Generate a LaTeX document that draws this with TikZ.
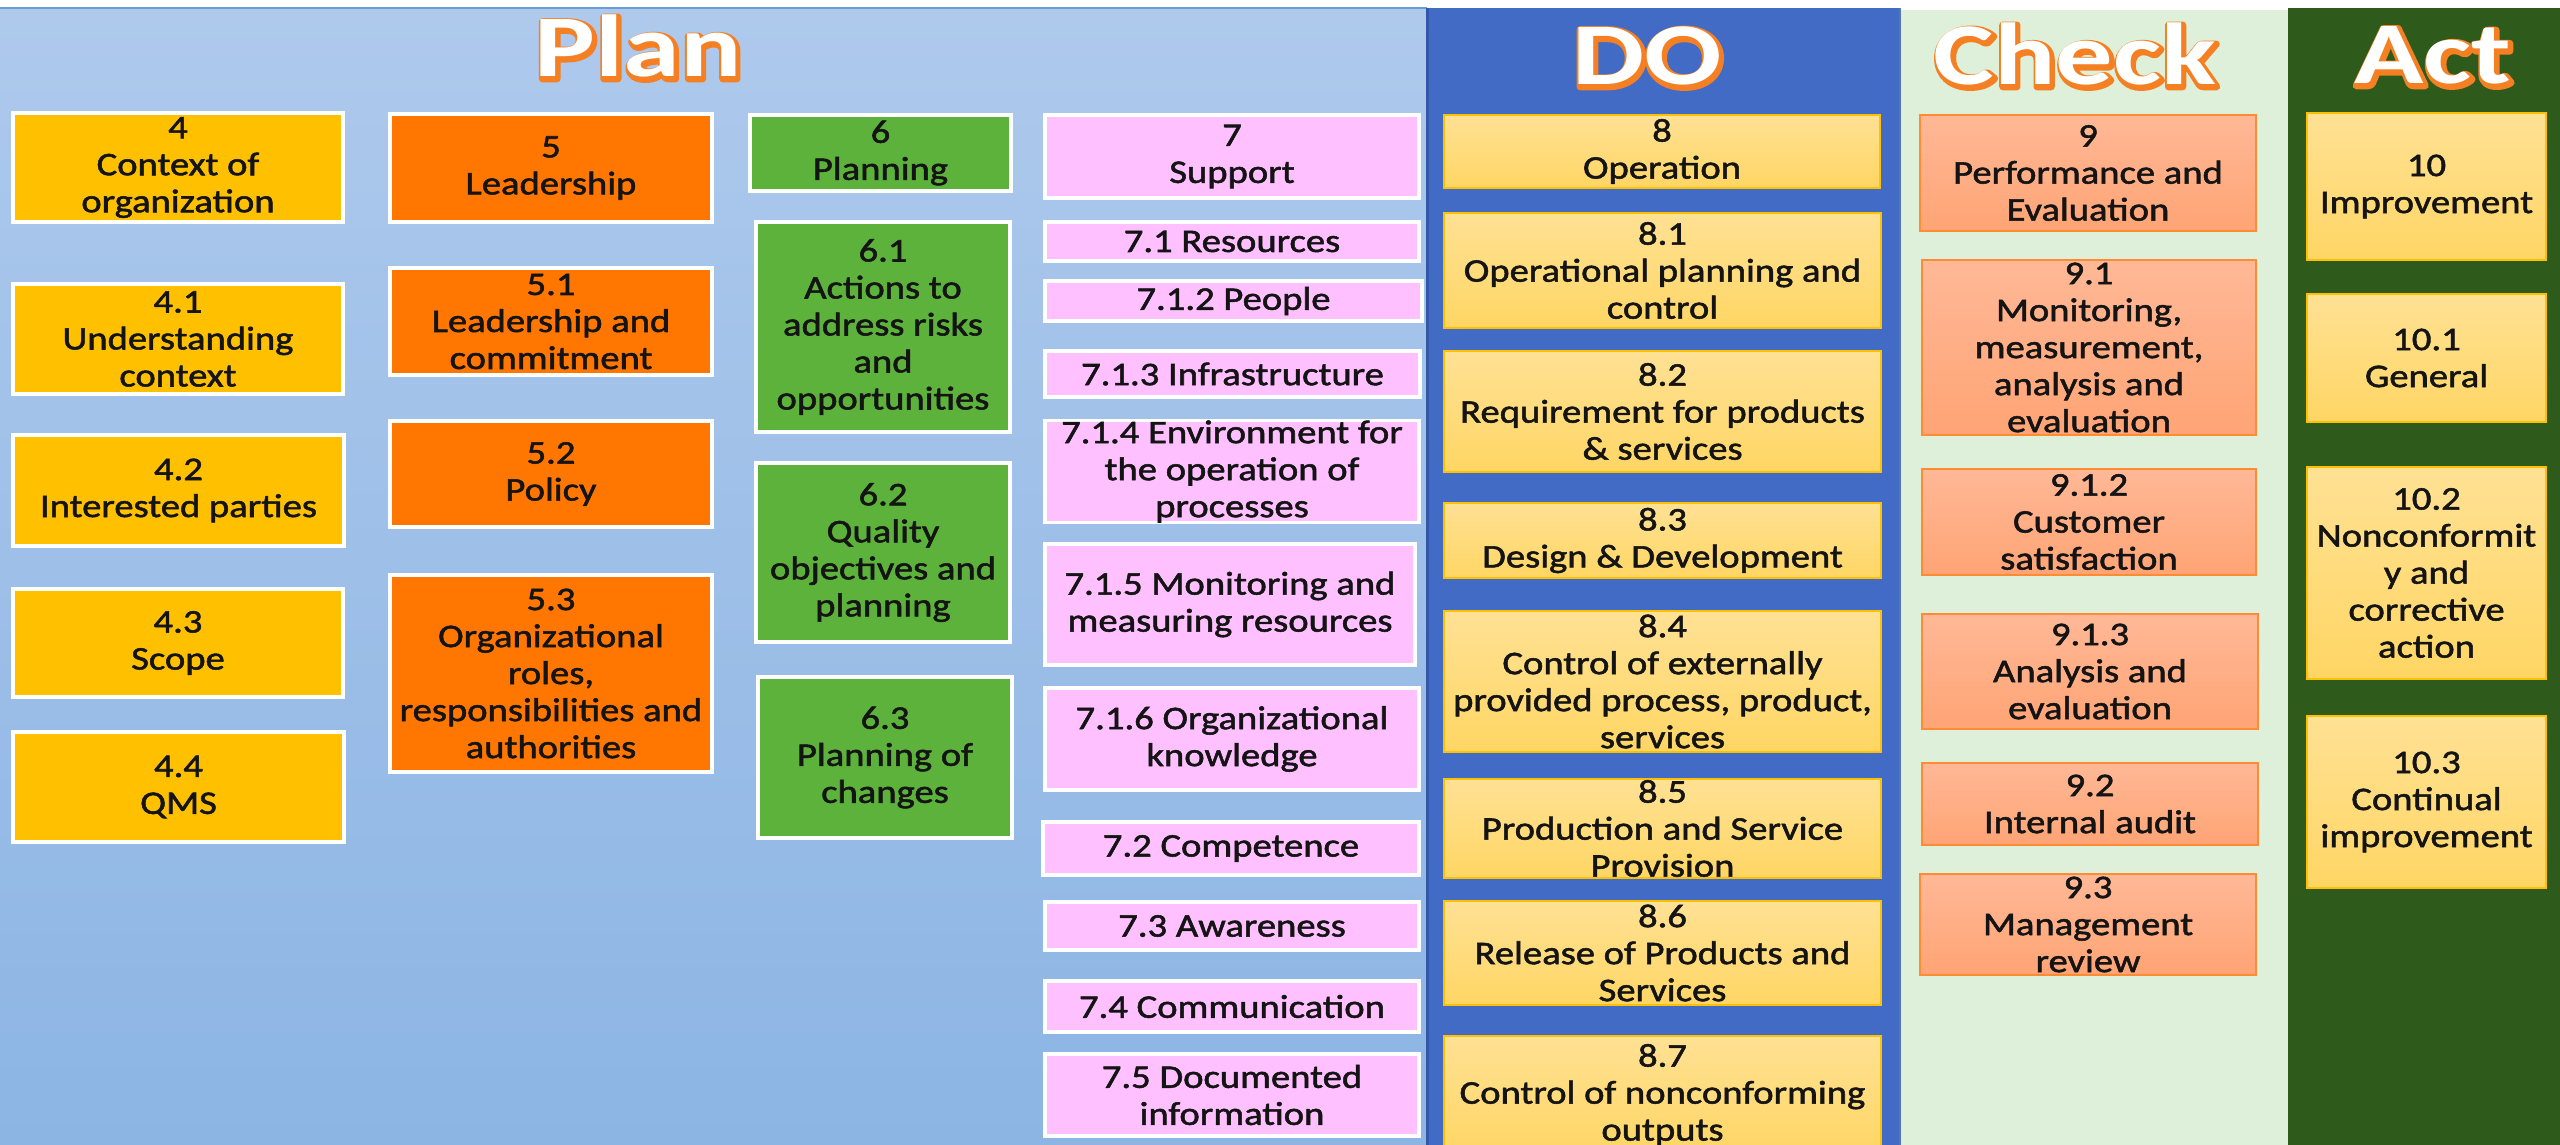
\documentclass[tikz,border=0pt]{standalone}
\usepackage{fontspec}
\setmainfont{Carlito}[FakeStretch=1.17, FakeBold=1.6]
\newfontfamily\ttlfont{Carlito}[FakeStretch=1.3]
\newfontfamily\ttlout{Carlito}[FakeStretch=1.3, FakeBold=8]
\definecolor{planTop}{RGB}{174,201,236}
\definecolor{planBot}{RGB}{140,181,228}
\definecolor{planEdge}{RGB}{105,155,215}
\definecolor{doBlue}{RGB}{66,107,197}
\definecolor{doEdge}{RGB}{52,88,168}
\definecolor{chkBg}{RGB}{222,240,217}
\definecolor{actBg}{RGB}{46,90,28}
\definecolor{yel}{RGB}{255,192,0}
\definecolor{org}{RGB}{255,119,0}
\definecolor{grn}{RGB}{92,178,58}
\definecolor{pnk}{RGB}{255,192,255}
\definecolor{ltYa}{RGB}{255,225,148}
\definecolor{ltYb}{RGB}{255,214,100}
\definecolor{gold}{RGB}{255,192,0}
\definecolor{salA}{RGB}{255,184,150}
\definecolor{salB}{RGB}{255,164,117}
\definecolor{salEdge}{RGB}{255,140,50}
\definecolor{ttlO}{RGB}{245,128,35}
\definecolor{txt}{RGB}{20,20,20}
% name, style, x1, y1, x2, y2, text  (pixel coordinates, y downwards)
\newcommand\bxn[7]{\node[#2, minimum width={(#5-#3)*0.5pt}, minimum height={(#6-#4)*0.5pt}]
  (#1) at ({(#3+#5)/2},{(#4+#6)/2+2}) {#7};}
\newcommand\pnl[6]{\node[panel, #2, minimum width={(#5-#3)*0.5pt}, minimum height={(#6-#4)*0.5pt}]
  (#1) at ({(#3+#5)/2},{(#4+#6)/2}) {};}
% outlined title: a fake-bold orange copy (outline and shadow) under the white text
\newcommand\ttlnode[4]{%
  \path (#2,#3) ++(0.7pt,-0.9pt) node[ttlo] {#4};
  \node[ttl,text=white] (#1) at (#2,#3) {#4};}
\begin{document}
\begin{tikzpicture}[x=0.5pt,y=-0.5pt,
  bx/.style={inner sep=0pt, outer sep=0pt, anchor=center, align=center, text=txt, font=\fontsize{16.5}{18.5}\selectfont},
  planbox/.style={bx, draw=white, line width=1.6pt},
  ybox/.style={planbox, fill=yel},
  obox/.style={planbox, fill=org},
  gbox/.style={planbox, fill=grn},
  pbox/.style={planbox, fill=pnk},
  dbox/.style={bx, draw=gold, line width=1.3pt, top color=ltYa, bottom color=ltYb},
  cbox/.style={bx, draw=salEdge, line width=1.3pt, top color=salA, bottom color=salB},
  panel/.style={inner sep=0pt, outer sep=0pt, anchor=center},
  ttl/.style={font=\ttlfont\bfseries\fontsize{44}{44}\selectfont, anchor=base, inner sep=0pt},
  ttlo/.style={font=\ttlout\bfseries\fontsize{44}{44}\selectfont, anchor=base, inner sep=0pt, text=ttlO, line join=round}
]
\clip (0,0) rectangle (2560,1145);
\fill[white] (0,0) rectangle (2560,1145);
% panels
\pnl{planP}{top color=planTop, bottom color=planBot}{0}{8}{1427}{1150}
\pnl{doP}{fill=doBlue}{1427}{8}{1900}{1150}
\pnl{chkP}{fill=chkBg}{1900}{10}{2288}{1150}
\pnl{actP}{fill=actBg}{2288}{8}{2560}{1150}
\draw[planEdge, line width=1.2pt] (planP.north west) -- (planP.north east);
\draw[doEdge, line width=1.5pt] (doP.north west) -- (doP.south west);
\draw[doEdge!80!chkBg, line width=1.2pt] (doP.north east) -- (doP.south east);
% titles
\ttlnode{tPlan}{638}{77}{Plan}
\ttlnode{tDo}{1647}{85}{DO}
\ttlnode{tCheck}{2075}{85}{Check}
\ttlnode{tAct}{2433}{84}{Act}
% column 4
\bxn{b4}{ybox}{13}{111}{343}{220}{4\\Context of\\organization}
\bxn{b41}{ybox}{13}{282}{343}{392}{4.1\\Understanding\\context}
\bxn{b42}{ybox}{13}{433}{344}{544}{4.2\\Interested parties}
\bxn{b43}{ybox}{13}{587}{343}{695}{4.3\\Scope}
\bxn{b44}{ybox}{13}{730}{344}{840}{4.4\\QMS}
% column 5
\bxn{b5}{obox}{390}{112}{712}{220}{5\\Leadership}
\bxn{b51}{obox}{390}{266}{712}{373}{5.1\\Leadership and\\commitment}
\bxn{b52}{obox}{390}{419}{712}{525}{5.2\\Policy}
\bxn{b53}{obox}{390}{573}{712}{770}{5.3\\Organizational\\roles,\\responsibilities and\\authorities}
% column 6
\bxn{b6}{gbox}{750}{113}{1011}{189}{6\\Planning}
\bxn{b61}{gbox}{756}{220}{1010}{430}{6.1\\Actions to\\address risks\\and\\opportunities}
\bxn{b62}{gbox}{756}{461}{1010}{640}{6.2\\Quality\\objectives and\\planning}
\bxn{b63}{gbox}{758}{675}{1012}{836}{6.3\\Planning of\\changes}
% column 7
\bxn{b7}{pbox}{1045}{113}{1419}{196}{7\\Support}
\bxn{b71}{pbox}{1045}{220}{1419}{259}{7.1 Resources}
\bxn{b712}{pbox}{1045}{279}{1422}{319}{7.1.2 People}
\bxn{b713}{pbox}{1045}{349}{1420}{395}{7.1.3 Infrastructure}
\bxn{b714}{pbox}{1045}{419}{1419}{520}{7.1.4 Environment for\\the operation of\\processes}
\bxn{b715}{pbox}{1045}{542}{1415}{663}{7.1.5 Monitoring and\\measuring resources}
\bxn{b716}{pbox}{1045}{686}{1419}{788}{7.1.6 Organizational\\knowledge}
\bxn{b72}{pbox}{1043}{820}{1419}{873}{7.2 Competence}
\bxn{b73}{pbox}{1045}{900}{1419}{948}{7.3 Awareness}
\bxn{b74}{pbox}{1045}{979}{1419}{1030}{7.4 Communication}
\bxn{b75}{pbox}{1045}{1052}{1419}{1134}{7.5 Documented\\information}
% DO
\bxn{b8}{dbox}{1444}{113}{1880}{186}{8\\Operation}
\bxn{b81}{dbox}{1444}{211}{1881}{326}{8.1\\Operational planning and\\control}
\bxn{b82}{dbox}{1444}{349}{1881}{470}{8.2\\Requirement for products\\\& services}
\bxn{b83}{dbox}{1444}{501}{1881}{576}{8.3\\Design \& Development}
\bxn{b84}{dbox}{1444}{609}{1881}{750}{8.4\\Control of externally\\provided process, product,\\services}
\bxn{b85}{dbox}{1444}{777}{1881}{876}{8.5\\Production and Service\\Provision}
\bxn{b86}{dbox}{1444}{899}{1881}{1003}{8.6\\Release of Products and\\Services}
\bxn{b87}{dbox}{1444}{1034}{1881}{1152}{8.7\\Control of nonconforming\\outputs}
% Check
\bxn{b9}{cbox}{1920}{113}{2256}{229}{9\\Performance and\\Evaluation}
\bxn{b91}{cbox}{1922}{258}{2256}{433}{9.1\\Monitoring,\\measurement,\\analysis and\\evaluation}
\bxn{b912}{cbox}{1922}{467}{2256}{573}{9.1.2\\Customer\\satisfaction}
\bxn{b913}{cbox}{1922}{612}{2258}{727}{9.1.3\\Analysis and\\evaluation}
\bxn{b92}{cbox}{1922}{761}{2258}{843}{9.2\\Internal audit}
\bxn{b93}{cbox}{1920}{872}{2256}{973}{9.3\\Management\\review}
% Act
\bxn{b10}{dbox}{2307}{111}{2546}{258}{10\\Improvement}
\bxn{b101}{dbox}{2307}{292}{2546}{420}{10.1\\General}
\bxn{b102}{dbox}{2307}{465}{2546}{677}{10.2\\Nonconformit\\y and\\corrective\\action}
\bxn{b103}{dbox}{2307}{714}{2546}{886}{10.3\\Continual\\improvement}
\end{tikzpicture}
\end{document}
